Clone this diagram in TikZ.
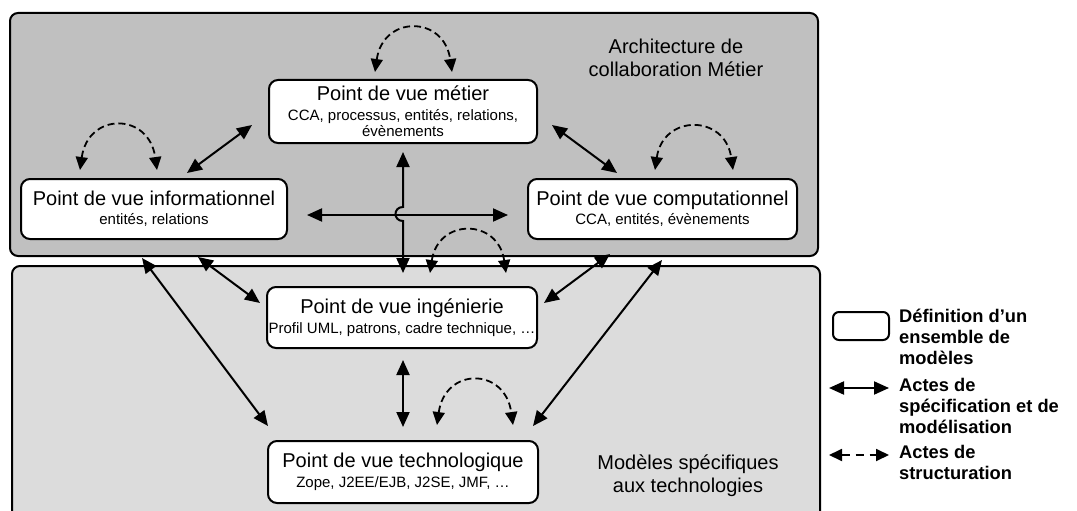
\documentclass[tikz,border=0pt]{standalone}
\usepackage{fontspec}
\setmainfont{Liberation Sans}
\usetikzlibrary{arrows.meta}
\definecolor{panelA}{HTML}{C0C0C0}
\definecolor{panelB}{HTML}{DCDCDC}
\tikzset{
  panel/.style={draw, line width=2pt, rounded corners=8pt},
  view/.style={draw, fill=white, line width=2pt, rounded corners=9pt, align=center,
    inner sep=0pt, font=\fontsize{15}{16}\selectfont},
  link/.style={line width=2pt, {Triangle[length=15pt,width=13pt]}-{Triangle[length=15pt,width=13pt]}},
  structlink/.style={line width=1.8pt, dash pattern=on 7pt off 4pt,
    {Triangle[length=13pt,width=12pt]}-{Triangle[length=13pt,width=12pt]}},
  paneltext/.style={align=center, inner sep=0pt, font=\fontsize{20}{23}\selectfont},
  legtext/.style={align=left, inner sep=0pt, anchor=north west, font=\bfseries\fontsize{18.3}{21}\selectfont}
}
\newcommand{\vtitle}[1]{{\fontsize{20}{20}\selectfont #1}}
\begin{document}
\begin{tikzpicture}[x=1pt,y=-1pt]
\useasboundingbox (0,0) rectangle (1077,511);
\clip (0,0) rectangle (1077,511);
% panels
\draw[panel, fill=panelA] (10,13) rectangle (818,256);
\draw[panel, fill=panelB] (12,266) rectangle (820,540);
\node[paneltext] (archlabel) at (676,58) {Architecture de\\collaboration Métier};
\node[paneltext] (techlabel) at (688,476) {Modèles spécifiques\\aux technologies};

% view boxes
\node[view, minimum width=268pt, minimum height=63pt] (metier) at (403,111.5)
  {\vtitle{Point de vue métier}\\[4pt]CCA, processus, entités, relations,\\évènements};
\node[view, minimum width=266pt, minimum height=60pt] (info) at (154,209)
  {\vtitle{Point de vue informationnel}\\[3pt]entités, relations};
\node[view, minimum width=269pt, minimum height=60pt] (comp) at (662.5,209)
  {\vtitle{Point de vue computationnel}\\[3pt]CCA, entités, évènements};
\node[view, minimum width=270pt, minimum height=61pt] (inge) at (402,317.5)
  {\vtitle{Point de vue ingénierie}\\[4pt]Profil UML, patrons, cadre technique, \dots};
\node[view, minimum width=270pt, minimum height=62pt] (tech) at (403,472)
  {\vtitle{Point de vue technologique}\\[4pt]Zope, J2EE/EJB, J2SE, JMF, \dots};

% endpoints
\coordinate (im1) at (187,173);  \coordinate (im2) at (252,125);
\coordinate (mc1) at (552,125);  \coordinate (mc2) at (617,173);
\coordinate (h1) at (307,215);   \coordinate (h2) at (508,215);
\coordinate (v1) at (403,152);   \coordinate (v2) at (403,273);
\coordinate (ii1) at (198,257);  \coordinate (ii2) at (260,303);
\coordinate (it1) at (142,258);  \coordinate (it2) at (268,426);
\coordinate (ci1) at (610,254);  \coordinate (ci2) at (544,303);
\coordinate (ct1) at (662,260);  \coordinate (ct2) at (533,426);
\coordinate (e1) at (403,360);   \coordinate (e2) at (403,427);

\draw[link] (im1) -- (im2);
\draw[link] (mc1) -- (mc2);
\draw[link] (h1) -- (h2);
\draw[link] (v1) -- (403,207) .. controls (393,207) and (393,221) .. (403,221) -- (v2);
\draw[link] (ii1) -- (ii2);
\draw[link] (it1) -- (it2);
\draw[link] (ci1) -- (ci2);
\draw[link] (ct1) -- (ct2);
\draw[link] (e1) -- (e2);

% structuring loops
\coordinate (lm1) at (375,72);  \coordinate (lm2) at (452,72);
\coordinate (li1) at (80,170);  \coordinate (li2) at (157,170);
\coordinate (lc1) at (655,170); \coordinate (lc2) at (733,170);
\coordinate (lg1) at (430,273); \coordinate (lg2) at (506,273);
\coordinate (lt1) at (437,425); \coordinate (lt2) at (513,425);
\draw[structlink] (lm1) .. controls +(8,-57) and +(-8,-57) .. (lm2);
\draw[structlink] (li1) .. controls +(8,-58) and +(-8,-58) .. (li2);
\draw[structlink] (lc1) .. controls +(8,-56) and +(-8,-56) .. (lc2);
\draw[structlink] (lg1) .. controls +(8,-55) and +(-8,-55) .. (lg2);
\draw[structlink] (lt1) .. controls +(8,-58) and +(-8,-58) .. (lt2);

% legend
\node[draw, line width=2pt, rounded corners=6pt, minimum width=56pt, minimum height=28pt, inner sep=0pt] (legbox) at (861,326) {};
\node[legtext] (leg1) at (899,309) {Définition d’un\\ensemble de\\modèles};
\node[legtext] (leg2) at (899,378) {Actes de\\spécification et de\\modélisation};
\node[legtext] (leg3) at (899,445) {Actes de\\structuration};
\coordinate (la1) at (829,388); \coordinate (la2) at (889,388);
\coordinate (lb1) at (829,455); \coordinate (lb2) at (889,455);
\draw[link] (la1) -- (la2);
\draw[structlink, dash pattern=on 8pt off 6pt] (lb1) -- (lb2);
\end{tikzpicture}
\end{document}
